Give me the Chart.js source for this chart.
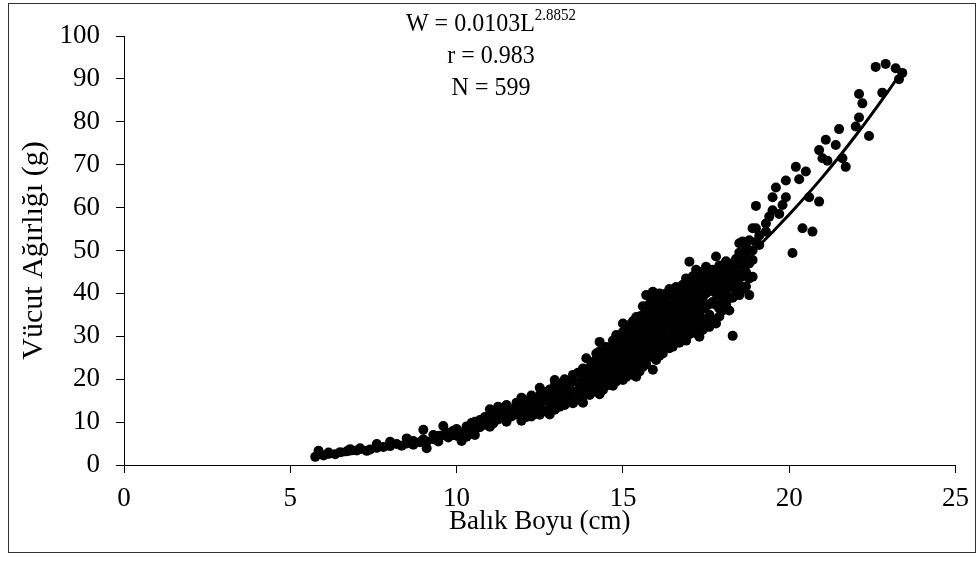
<!DOCTYPE html>
<html>
<head>
<meta charset="utf-8">
<script src="https://cdn.jsdelivr.net/npm/chart.js@4.4.0/dist/chart.umd.min.js"></script>
<style>
  html, body { margin: 0; padding: 0; background: #fff; }
  #wrap { width: 979px; height: 564px; }
</style>
</head>
<body>
<div id="wrap"><canvas id="myChart" width="979" height="564"></canvas></div>
<script>
// fish length (cm) columns and the weights (g) measured at each length
const lengthCm = [
  5.75, 5.85, 6.0, 6.15, 6.35, 6.5, 6.7, 6.8, 7.0, 7.1,
  7.3, 7.4, 7.6, 7.8, 8.0, 8.2, 8.35, 8.5, 8.7, 8.9,
  9.0, 9.1, 9.3, 9.45, 9.6, 9.75, 9.9, 10.0, 10.15, 10.3,
  10.45, 10.55, 10.7, 10.85, 11.0, 11.1, 11.25, 11.4, 11.5, 11.65,
  11.8, 11.95, 12.1, 12.25, 12.4, 12.5, 12.65, 12.8, 12.95, 13.1,
  13.25, 13.4, 13.5, 13.65, 13.8, 13.9, 14.0, 14.1, 14.2, 14.3,
  14.4, 14.5, 14.6, 14.7, 14.8, 14.9, 15.0, 15.1, 15.2, 15.3,
  15.4, 15.5, 15.6, 15.7, 15.8, 15.9, 16.0, 16.1, 16.2, 16.3,
  16.4, 16.5, 16.6, 16.7, 16.8, 16.9, 17.0, 17.1, 17.2, 17.3,
  17.4, 17.5, 17.6, 17.7, 17.8, 17.9, 18.0, 18.1, 18.2, 18.3,
  18.4, 18.5, 18.6, 18.7, 18.8, 18.9, 19.0, 19.1, 19.3, 19.4,
  19.5, 19.6, 19.7, 19.8, 19.9, 20.1, 20.2, 20.3, 20.4, 20.5,
  20.6, 20.7, 20.9, 21.0, 21.1, 21.15, 21.4, 21.5, 21.6, 21.7,
  22.0, 22.1, 22.2, 22.4, 22.6, 22.8, 22.9, 23.2, 23.3, 23.4
]
const weightG = [
  [1.9], [3.3], [2.2], [2.6, 2.9], [2.5], [3.0], [3.2], [3.7], [3.4], [3.9],
  [3.3], [3.6], [4.0, 4.9], [4.2], [4.4, 5.4], [4.9], [4.5], [5.0, 6.2], [4.7, 5.6], [5.3],
  [6.0, 8.2], [3.9, 5.4], [6.0, 7.0], [5.5, 6.8], [7.0, 9.1], [6.4, 7.5], [7.0, 8.0], [6.8, 8.4], [5.6, 7.6], [6.6, 8.2, 9.0],
  [7.4, 9.8], [7.0, 8.6, 10.1], [8.8, 10.5], [9.4, 11.2], [8.9, 10.6, 13.0], [9.7, 11.8], [10.6, 12.0, 13.6], [11.0, 12.6], [10.1, 12.4, 14.0], [11.3, 13.0],
  [11.8, 13.5, 14.5], [10.3, 12.4, 14.0, 15.7], [11.2, 13.2, 15.0], [11.3, 12.6, 14.5, 16.2], [12.0, 13.4, 15.0], [11.7, 14.0, 16.3, 18.0], [12.6, 15.1, 17.0], [11.8, 13.8, 15.8, 17.6], [12.9, 14.8, 16.8, 18.5, 19.8], [13.6, 15.5, 17.4, 19.0],
  [14.0, 16.0, 18.2, 20.0], [14.6, 15.4, 16.7, 18.8], [14.4, 17.0, 19.5, 21.0], [15.2, 17.3, 19.2, 21.5], [14.5, 16.0, 18.0, 20.2, 22.5], [17.0, 19.0, 21.5, 24.9], [16.3, 18.4, 20.6, 22.8], [17.0, 19.4, 21.6, 24.0], [18.0, 20.2, 22.4, 24.6, 26.0], [16.5, 19.0, 21.5, 23.5, 26.5, 28.7],
  [17.5, 19.7, 22.0, 24.3, 26.0], [18.5, 20.8, 23.0, 25.3, 27.5], [19.0, 21.5, 24.0, 27.0], [18.5, 20.5, 22.5, 24.8, 27.0, 29.0], [19.5, 21.8, 24.0, 26.3, 28.5, 30.3], [20.0, 22.5, 25.0, 27.5, 30.0], [19.8, 22.0, 24.3, 26.5, 28.8, 31.0, 33.0], [20.5, 23.0, 25.5, 28.0, 30.5, 32.5], [21.5, 24.0, 26.3, 28.5, 30.8, 32.6], [21.0, 23.3, 25.6, 28.0, 30.3, 33.5],
  [20.6, 22.8, 25.2, 27.5, 30.0, 32.4, 34.5], [21.8, 24.0, 26.5, 29.0, 31.4, 33.5, 34.6], [22.9, 25.2, 27.6, 30.0, 32.4, 35.0, 37.0], [23.5, 26.0, 28.5, 31.0, 33.5, 36.9, 39.6], [25.2, 27.5, 30.0, 32.5, 35.0, 37.5, 39.4], [22.2, 26.5, 29.0, 31.5, 34.0, 36.5, 38.5, 40.4], [24.5, 27.0, 29.5, 32.0, 34.5, 37.0, 39.5], [25.5, 28.0, 30.5, 33.0, 35.5, 38.0, 40.0], [26.0, 28.5, 31.0, 33.5, 36.0, 38.5], [27.5, 30.0, 32.5, 35.0, 37.5, 40.0],
  [27.2, 29.5, 32.0, 34.5, 37.0, 39.5, 41.0], [27.6, 30.0, 32.5, 35.0, 37.5, 40.8], [29.0, 31.5, 34.0, 36.5, 39.0, 41.5], [28.5, 31.0, 33.5, 36.0, 38.5, 41.0], [29.5, 32.0, 34.5, 37.0, 39.5, 42.0], [29.0, 31.5, 34.0, 36.5, 39.0, 41.5, 43.5], [30.5, 33.0, 35.5, 38.0, 40.5, 43.0, 47.4], [32.0, 34.5, 37.0, 39.5, 41.6, 44.0], [30.7, 33.0, 35.5, 38.0, 40.5, 43.5, 45.5], [29.9, 32.5, 35.0, 37.5, 40.0, 42.5, 45.0],
  [31.5, 34.0, 36.5, 39.0, 41.5, 44.0], [32.2, 33.8, 37.0, 40.0, 42.5, 44.5, 46.2], [32.2, 35.0, 37.5, 40.5, 43.0], [34.0, 38.0, 41.0, 43.5, 45.5], [33.0, 37.3, 40.0, 42.5, 45.0, 48.6], [34.6, 36.5, 39.5, 42.0, 44.5, 46.5], [36.0, 38.5, 41.0, 43.5, 46.0], [37.5, 40.0, 43.1, 45.0, 47.5], [36.0, 38.9, 41.5, 44.0, 46.5], [30.1, 39.0, 42.0, 44.5, 47.0],
  [40.5, 43.0, 45.5, 48.0], [39.6, 42.0, 44.5, 47.0, 49.5, 51.7], [41.0, 44.0, 46.6, 49.0, 52.1], [41.6, 45.0, 49.4, 51.0], [39.6, 43.5, 47.0, 52.4], [43.9, 47.8, 50.0, 55.2], [52.0, 55.2, 60.4], [51.3, 53.5], [54.4, 56.3], [57.9],
  [59.4, 62.4], [64.7], [58.5], [60.6], [62.4, 66.3], [49.4], [69.5], [66.6], [55.2], [68.4],
  [62.4], [54.4], [61.4, 73.4], [71.5], [75.8], [70.9], [74.6], [78.3], [71.5], [69.5],
  [78.9], [81.0, 86.5], [84.3], [76.7], [92.8], [86.8], [93.5], [92.5], [89.9], [91.4]
]

// fitted curve W = 0.0103 L^2.8852
const curveL = [5.7, 6, 7, 8, 9, 10, 11, 12, 13, 14, 15, 16, 17, 18, 19, 20, 21, 22, 23, 23.4]
const curveW = [1.6, 1.8, 2.8, 4.2, 5.8, 7.9, 10.4, 13.4, 16.9, 20.9, 25.4, 30.7, 36.5, 43.1, 50.4, 58.4, 67.1, 76.8, 87.4, 91.9]

const xTicks = [0, 5, 10, 15, 20, 25]
const yTicks = [0, 10, 20, 30, 40, 50, 60, 70, 80, 90, 100]

const equationLines = ["W = 0.0103L", "r = 0.983", "N = 599"]
const equationPower = "2.8852"

const serif = '"Liberation Serif", "Times New Roman", serif'

const fishPoints = []
lengthCm.forEach((len, i) => {
  weightG[i].forEach(w => fishPoints.push({ x: len, y: w }))
})
const curvePoints = curveL.map((len, i) => ({ x: len, y: curveW[i] }))

// text slightly taller than wide, like the source picture
function tallText(ctx, text, x, y, font) {
  ctx.save()
  ctx.font = font
  ctx.translate(x, y)
  ctx.scale(1, 1.09)
  ctx.fillText(text, 0, 0)
  ctx.restore()
}

const framePlugin = {
  id: "frame",
  beforeDraw(chart) {
    const ctx = chart.ctx
    ctx.save()
    ctx.fillStyle = "#fff"
    ctx.fillRect(0, 0, chart.width, chart.height)
    ctx.restore()
  },
  afterDraw(chart) {
    const ctx = chart.ctx
    ctx.save()
    ctx.strokeStyle = "#333"
    ctx.lineWidth = 1
    ctx.strokeRect(8.5, 3.5, 967, 549)

    // equation text block
    ctx.fillStyle = "#000"
    ctx.textBaseline = "alphabetic"
    const center = 491
    const big = "24px " + serif
    const small = "15px " + serif
    ctx.font = big
    const baseW = ctx.measureText(equationLines[0]).width
    ctx.font = small
    const supW = ctx.measureText(equationPower).width
    const x0 = center - (baseW + supW) / 2
    ctx.textAlign = "left"
    tallText(ctx, equationLines[0], x0, 31, big)
    tallText(ctx, equationPower, x0 + baseW, 20, small)
    ctx.textAlign = "center"
    tallText(ctx, equationLines[1], center, 63, big)
    tallText(ctx, equationLines[2], center, 95, big)
    ctx.restore()
  }
}

const tickFont = { family: serif, size: 27 }

new Chart(document.getElementById("myChart").getContext("2d"), {
  type: "scatter",
  data: {
    datasets: [
      {
        type: "line",
        label: "Fit",
        data: curvePoints,
        borderColor: "#000",
        borderWidth: 3,
        pointRadius: 0,
        fill: false,
        cubicInterpolationMode: "monotone",
        order: 0
      },
      {
        label: "Fish",
        data: fishPoints,
        backgroundColor: "#000",
        borderWidth: 0,
        pointRadius: 5,
        order: 1
      }
    ]
  },
  options: {
    responsive: false,
    animation: false,
    layout: { padding: { top: 36, right: 22, bottom: 0, left: 0 } },
    plugins: { legend: { display: false }, tooltip: { enabled: false } },
    scales: {
      x: {
        type: "linear",
        min: 0,
        max: 25,
        afterBuildTicks: s => { s.ticks = xTicks.map(v => ({ value: v })) },
        afterFit: s => { s.height = 99 },
        ticks: { color: "#000", font: tickFont, padding: 10 },
        grid: { drawOnChartArea: false, drawTicks: true, tickLength: 8, color: "#000" },
        border: { color: "#000", width: 1 },
        title: { display: true, text: "Balık Boyu (cm)", color: "#000", font: tickFont, padding: { top: 0, bottom: 26 } }
      },
      y: {
        type: "linear",
        min: 0,
        max: 100,
        afterBuildTicks: s => { s.ticks = yTicks.map(v => ({ value: v })) },
        afterFit: s => { s.width = 124 },
        ticks: { color: "#000", font: tickFont, padding: 16 },
        grid: { drawOnChartArea: false, drawTicks: true, tickLength: 8, color: "#000" },
        border: { color: "#000", width: 1 },
        title: { display: true, text: "Vücut Ağırlığı (g)", color: "#000", font: { family: serif, size: 30 }, padding: { top: 16, bottom: 0 } }
      }
    }
  },
  plugins: [framePlugin]
})
</script>
</body>
</html>
